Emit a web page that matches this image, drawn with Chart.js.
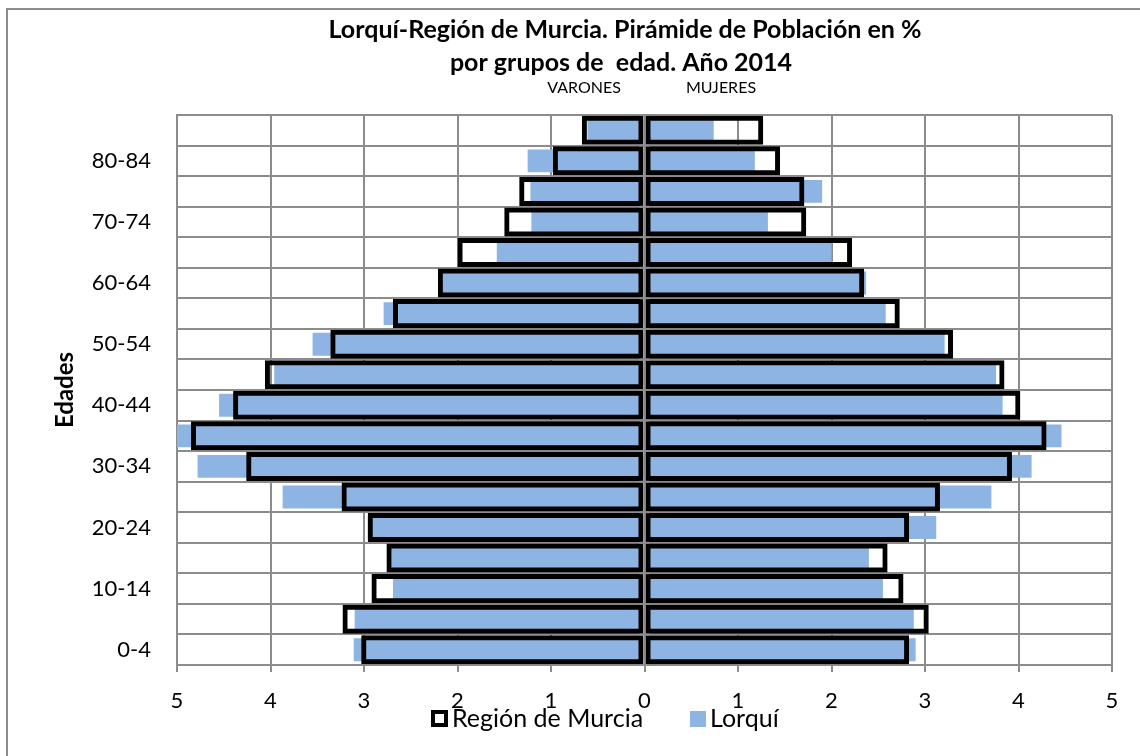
<!DOCTYPE html>
<html>
<head>
<meta charset="utf-8">
<script src="https://cdn.jsdelivr.net/npm/chart.js@4.4.1/dist/chart.umd.min.js"></script>
<style>
  html, body { margin: 0; padding: 0; background: #fff; overflow: hidden; }
  #wrap { position: relative; width: 1140px; height: 756px; }
  #frame { position: absolute; left: 6px; top: 8px; width: 1150px; height: 770px; border: 2px solid #8c8c8c; box-sizing: border-box; }
  #myChart { position: absolute; left: 0; top: 0; }
</style>
</head>
<body>
<div id="wrap">
  <div id="frame"></div>
  <canvas id="myChart" width="1140" height="756"></canvas>
</div>
<script>
// ---------------------------------------------------------------------------------------------
// data, bottom (0-4) to top (85+), values in %
const ageGroups = ["0-4", "5-9", "10-14", "15-19", "20-24", "25-29", "30-34", "35-39", "40-44",
  "45-49", "50-54", "55-59", "60-64", "65-69", "70-74", "75-79", "80-84", "85+"];
const murciaMen = [3.03, 3.23, 2.92, 2.76, 2.96, 3.24, 4.26, 4.85, 4.4, 4.06, 3.36, 2.69, 2.21, 2.0, 1.5, 1.34, 0.98, 0.67];
const murciaWomen = [2.83, 3.04, 2.77, 2.6, 2.83, 3.16, 3.93, 4.3, 4.02, 3.85, 3.3, 2.73, 2.35, 2.22, 1.73, 1.71, 1.45, 1.27];
const lorquiMen = [3.11, 3.1, 2.69, 2.71, 2.96, 3.87, 4.78, 5.03, 4.55, 3.96, 3.55, 2.79, 2.16, 1.58, 1.21, 1.22, 1.25, 0.61];
const lorquiWomen = [2.9, 2.88, 2.55, 2.4, 3.12, 3.71, 4.14, 4.46, 3.83, 3.76, 3.21, 2.58, 2.37, 2.0, 1.32, 1.9, 1.18, 0.74];
const xTicks = [-5, -4, -3, -2, -1, 0, 1, 2, 3, 4, 5];
// ---------------------------------------------------------------------------------------------
const gridGray = "#8c8c8c";
const lorquiBlue = "#8eb4e3";
Chart.defaults.font.family = "Lato, 'Open Sans', sans-serif";
Chart.defaults.color = "#000";

const extras = {
  id: "extras",
  afterDatasetsDraw(chart) {
    const { ctx, chartArea, scales } = chart;
    const x0 = scales.x.getPixelForValue(0);
    ctx.save();
    ctx.strokeStyle = gridGray;
    ctx.lineWidth = 2;
    ctx.beginPath();
    ctx.moveTo(x0, chartArea.top);
    ctx.lineTo(x0, chartArea.bottom);
    for (let i = 0; i <= ageGroups.length; i++) {
      const y = scales.y.getPixelForValue(i - 0.5);
      ctx.moveTo(x0 - 5, y);
      ctx.lineTo(x0 + 5, y);
    }
    ctx.stroke();
    ctx.restore();
  },
  afterDraw(chart) {
    const ctx = chart.ctx;
    ctx.save();
    ctx.fillStyle = "#000";
    ctx.textAlign = "center";
    ctx.textBaseline = "middle";
    ctx.font = "bold 25px Lato";
    ctx.fillText("Lorquí-Región de Murcia. Pirámide de Población en %", 625, 30);
    ctx.fillText("por grupos de  edad. Año 2014", 621, 63);
    ctx.font = "16px Lato";
    ctx.fillText("VARONES", 584, 88);
    ctx.fillText("MUJERES", 721, 88);

    // legend
    ctx.textAlign = "left";
    ctx.font = "25px Lato";
    ctx.fillStyle = "#000";
    ctx.fillRect(431, 710, 17, 17);
    ctx.fillStyle = "#fff";
    ctx.fillRect(435, 714, 9, 9);
    ctx.fillStyle = "#000";
    ctx.fillText("Región de Murcia", 452, 719);
    ctx.fillStyle = lorquiBlue;
    ctx.fillRect(690, 711, 16, 16);
    ctx.fillStyle = "#000";
    ctx.fillText("Lorquí", 710, 719);
    ctx.restore();
  }
};

function barSet(label, values, sign, isMurcia) {
  return {
    label: label,
    data: values.map((v) => v * sign),
    grouped: false,
    order: isMurcia ? 0 : 1,
    categoryPercentage: 1,
    barPercentage: isMurcia ? 0.95 : 0.75,
    backgroundColor: isMurcia ? "rgba(0,0,0,0)" : lorquiBlue,
    borderColor: "#000",
    borderWidth: isMurcia ? 5 : 0,
    borderSkipped: false,
  };
}

const ctx = document.getElementById("myChart");
const myChart = new Chart(ctx, {
  type: "bar",
  data: {
    labels: ageGroups,
    datasets: [
      barSet("Región de Murcia", murciaMen, -1, true),
      barSet("Región de Murcia", murciaWomen, 1, true),
      barSet("Lorquí", lorquiMen, -1, false),
      barSet("Lorquí", lorquiWomen, 1, false),
    ],
  },
  options: {
    indexAxis: "y",
    responsive: false,
    animation: false,
    layout: { padding: { top: 115, right: 28, bottom: 36, left: 0 } },
    plugins: {
      legend: { display: false },
      title: { display: false },
      tooltip: { enabled: false },
    },
    scales: {
      x: {
        min: -5,
        max: 5,
        afterBuildTicks: (scale) => {
          scale.ticks = xTicks.map((v) => ({ value: v }));
        },
        afterFit: (scale) => {
          scale.height = 55;
        },
        ticks: {
          font: { size: 22 },
          padding: 16,
          callback: (v) => Math.abs(v),
        },
        grid: { color: gridGray, lineWidth: 2, tickLength: 7, tickColor: gridGray },
        border: { color: gridGray, width: 2 },
      },
      y: {
        reverse: true,
        afterFit: (scale) => {
          scale.width = 177;
        },
        ticks: {
          autoSkip: false,
          font: { size: 22 },
          padding: 26,
          callback: function (v, i) {
            return i % 2 === 0 ? ageGroups[i] : "";
          },
        },
        grid: { color: gridGray, lineWidth: 2, drawTicks: false },
        border: { color: gridGray, width: 2 },
        title: {
          display: true,
          text: "Edades",
          font: { size: 24, weight: "bold" },
          padding: { top: 51, bottom: 0 },
        },
      },
    },
  },
  plugins: [extras],
});
</script>
</body>
</html>
